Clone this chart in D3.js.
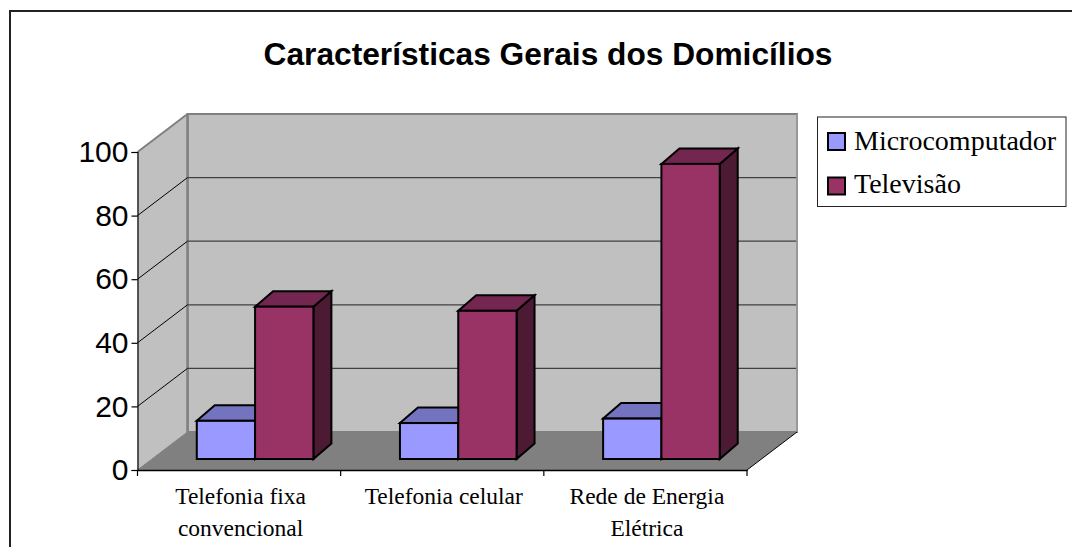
<!DOCTYPE html>
<html><head><meta charset="utf-8">
<script src="https://cdn.jsdelivr.net/npm/d3@7/dist/d3.min.js"></script>
<style>html,body{margin:0;padding:0;background:#fff;overflow:hidden}svg{display:block}</style>
</head><body><svg id="c" width="1072" height="547"></svg>
<script>
const titleText = "Características Gerais dos Domicílios";
const categories = ["Telefonia fixa convencional","Telefonia celular","Rede de Energia Elétrica"];
const categoryLines = [["Telefonia fixa","convencional"],["Telefonia celular"],["Rede de Energia","Elétrica"]];
const seriesNames = ["Microcomputador","Televisão"];
const microcomputador = [12,11.3,12.7];
const televisao = [47.9,46.6,92.8];
const yTicks = [0,20,40,60,80,100];

const front = "#9999ff", frontTop="#7373bf", frontSide="#4d4d80";
const wine = "#993366", wineTop="#732650", wineSide="#4d1a33";

const svg = d3.select("#c");
const x = d3.scaleBand().domain(categories).range([137.5,747]);
const y = d3.scaleLinear().domain([0,100]).range([470,152]);
const dx = 50, dy = -38;
const line=(a,b,c,d,col,w)=>svg.append("line").attr("x1",a).attr("y1",b).attr("x2",c).attr("y2",d).attr("stroke",col).attr("stroke-width",w);
const poly=(pts,fill,stroke,w)=>svg.append("polygon").attr("points",pts.map(p=>p.join(",")).join(" ")).attr("fill",fill).attr("stroke",stroke||"none").attr("stroke-width",w||0).attr("stroke-linejoin","miter");

// frame: left and top edges only, the rest is cropped
svg.append("path").attr("d","M10,547V11H1072").attr("fill","none").attr("stroke","#222").attr("stroke-width",2);
svg.append("text").attr("x",548).attr("y",65).attr("text-anchor","middle").attr("font-family","Liberation Sans").attr("font-weight","bold").attr("font-size",31.7).attr("fill","#000").text(titleText);

const x0=x.range()[0], x1=x.range()[1], y0=y(0), yT=y(100);
// walls
poly([[x0+dx,yT+dy],[x1+dx,yT+dy],[x1+dx,y0+dy],[x0+dx,y0+dy]],"#c0c0c0","#808080",2);
poly([[x0,yT],[x0+dx,yT+dy],[x0+dx,y0+dy],[x0,y0]],"#c0c0c0");
line(x0,yT,x0+dx,yT+dy,"#808080",2);
line(x0+dx,yT+dy,x0+dx,y0+dy,"#808080",2.5);
// floor
poly([[x0,y0],[x0+dx,y0+dy],[x1+dx,y0+dy],[x1,y0]],"#808080");
// gridlines
yTicks.filter(t=>t>0&&t<100).forEach(t=>{
  line(x0+dx,y(t)+dy,x1+dx,y(t)+dy,"#404040",1.2);
  line(x0,y(t),x0+dx,y(t)+dy,"#000",1);
});
line(x1+dx,yT+dy,x1+dx,y0+dy,"#a0a0a0",1.5);
line(x1,y0,x1+dx,y0+dy,"#000",1);
line(x0,y0,x0+dx,y0+dy,"#808080",1);
// axes
const ay=svg.append("g").attr("transform",`translate(${x0},0)`).call(d3.axisLeft(y).tickValues(yTicks).tickSize(6).tickPadding(3));
ay.selectAll("text").attr("font-family","Liberation Sans").attr("font-size",30).attr("fill","#000");
ay.selectAll("path,line").attr("stroke","#000").attr("stroke-width",1.2);
const ax=svg.append("g").attr("transform",`translate(0,${y0})`).call(d3.axisBottom(x).tickValues([]).tickSize(0));
ax.select("path").attr("stroke","#000").attr("stroke-width",1.4);
d3.range(categories.length+1).forEach(i=>line(x0+i*x.bandwidth(),y0,x0+i*x.bandwidth(),y0+6,"#000",1.2));

// bars
const barW=58.3, off=16, bdx=18, bdy=-15.5, lift=11;
const seriesVals=[microcomputador,televisao];
const fills=[[front,frontTop,frontSide],[wine,wineTop,wineSide]];
categories.forEach((c,i)=>{
  const center=x(c)+x.bandwidth()/2+off;
  [0,1].forEach(s=>{
    const l=center+(s-1)*barW, r=l+barW, t=y(seriesVals[s][i])-lift, b=y(0)-lift;
    poly([[r,t],[r+bdx,t+bdy],[r+bdx,b+bdy],[r,b]],fills[s][2],"#000",2);
    poly([[l,t],[l+bdx,t+bdy],[r+bdx,t+bdy],[r,t]],fills[s][1],"#000",2);
    svg.append("rect").attr("x",l).attr("y",t).attr("width",barW).attr("height",b-t).attr("fill",fills[s][0]).attr("stroke","#000").attr("stroke-width",2);
  });
});
// category labels
categories.forEach((c,i)=>{
  categoryLines[i].forEach((tx,k)=>{
    svg.append("text").attr("x",x(c)+x.bandwidth()/2+1.5).attr("y",504+k*32).attr("text-anchor","middle")
      .attr("font-family","Liberation Serif").attr("font-size",23.5).attr("fill","#000").text(tx);
  });
});
// legend
svg.append("rect").attr("x",817.5).attr("y",117).attr("width",248.5).attr("height",89.5).attr("fill","#fff").attr("stroke","#222").attr("stroke-width",1);
seriesNames.forEach((n,i)=>{
  const yy=133+i*44.5;
  svg.append("rect").attr("x",828).attr("y",yy).attr("width",17).attr("height",17).attr("fill",fills[i][0]).attr("stroke","#000").attr("stroke-width",2);
  svg.append("text").attr("x",854).attr("y",150+i*43).attr("font-family","Liberation Serif").attr("font-size",28).attr("fill","#000").text(n);
});
</script></body></html>
